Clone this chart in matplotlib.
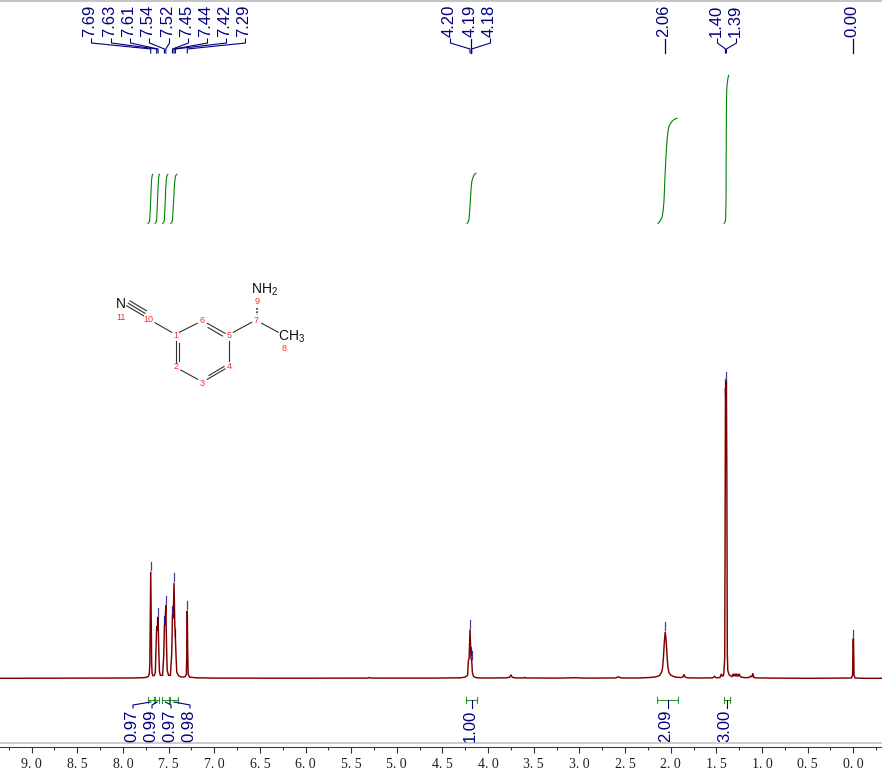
import matplotlib
matplotlib.use('Agg')
import matplotlib.pyplot as plt

plt.rcParams['font.family'] = ['Liberation Sans', 'DejaVu Sans']
plt.rcParams['mathtext.default'] = 'regular'

WIDTH, HEIGHT = 882, 771
BASE_Y = 678.3
PPM_ZERO_PX = 853.3
PX_PER_PPM = 91.3

NAVY = '#000080'
RED = '#800000'
GREEN = '#008000'

# spectrum trace, height is in pixels above the baseline
spec_ppm = [9.35, 8.6, 7.9, 7.78, 7.74, 7.72, 7.71, 7.705, 7.70, 7.695, 7.69, 7.685, 7.68, 7.67,
            7.655, 7.645, 7.638, 7.63, 7.623, 7.615, 7.607, 7.60, 7.59, 7.565, 7.553, 7.545, 7.538,
            7.53, 7.522, 7.515, 7.50, 7.48, 7.465, 7.457, 7.449, 7.44, 7.432, 7.425, 7.417, 7.41,
            7.39, 7.36, 7.32, 7.305, 7.30, 7.295, 7.29, 7.285, 7.27, 7.2, 7.0, 6.2, 5.32, 5.30, 5.28,
            4.6, 4.3, 4.25, 4.225, 4.215, 4.208, 4.198, 4.19, 4.187, 4.18, 4.172, 4.16, 4.14, 4.1,
            4.0, 3.8, 3.765, 3.75, 3.735, 3.7, 3.61, 3.6, 3.59, 3.2, 3.05, 2.95, 2.6, 2.58, 2.56,
            2.54, 2.35, 2.25, 2.18, 2.14, 2.12, 2.10, 2.09, 2.08, 2.07, 2.06, 2.05, 2.04, 2.03,
            2.02, 2.00, 1.97, 1.93, 1.88, 1.865, 1.855, 1.845, 1.82, 1.7, 1.54, 1.52, 1.50, 1.46,
            1.445, 1.435, 1.42, 1.408, 1.403, 1.40, 1.395, 1.39, 1.385, 1.38, 1.375, 1.36, 1.33,
            1.315, 1.305, 1.295, 1.285, 1.275, 1.265, 1.25, 1.24, 1.22, 1.18, 1.14, 1.125, 1.11,
            1.10, 1.09, 1.07, 0.9, 0.5, 0.02, 0.008, 0.002, -0.002, -0.008, -0.02, -0.1, -0.32]
spec_height = [0.0, 0.1, 0.3, 0.6, 1.0, 2.0, 5.0, 15, 60, 106.5, 60, 15, 5.0, 2.5,
               3.0, 6.0, 28, 52, 48, 61, 28, 7.0, 3.0, 3.0, 22, 53, 55,
               73, 32, 8.0, 3.0, 3.0, 25, 63, 60, 95.5, 55, 40, 20, 6.0,
               2.5, 1.2, 1.5, 4.0, 25, 67.5, 25, 4.0, 1.2, 0.5, 0.2, 0.1, 0.2, 0.8, 0.2,
               0.2, 0.5, 1.2, 3.0, 18, 20, 49, 26, 20, 18, 6.0, 2.0, 0.8, 0.4,
               0.3, 0.5, 1.0, 3.5, 1.0, 0.4, 0.3, 1.0, 0.3, 0.2, 0.6, 0.2, 0.3, 1.5, 1.0,
               0.3, 0.3, 0.7, 1.2, 2.0, 3.0, 6.0, 10, 20, 36, 46.5, 38, 22, 11,
               6.0, 3.2, 1.8, 1.0, 0.8, 1.5, 4.0, 1.5, 0.5, 0.3, 0.4, 2.0, 0.5, 0.8,
               4.5, 2.0, 3.0, 20, 200, 290, 270, 297, 200, 25, 8.0, 3.5, 1.5,
               4.5, 2.0, 4.5, 2.0, 4.5, 1.8, 4.5, 2.0, 1.0, 0.6, 0.8, 2.2, 1.5,
               5.0, 1.0, 0.4, 0.2, 0.0, 0.3, 3.0, 39, 39, 3.0, 0.3, 0.0, 0.0]

# integral curves, same height scale
int_ppm = [
    [7.725, 7.712, 7.706, 7.700, 7.695, 7.690, 7.685, 7.679, 7.673],
    [7.648, 7.636, 7.630, 7.625, 7.620, 7.615, 7.610, 7.605, 7.600],
    [7.564, 7.552, 7.545, 7.540, 7.535, 7.530, 7.524, 7.516, 7.507],
    [7.476, 7.464, 7.456, 7.450, 7.443, 7.437, 7.430, 7.420, 7.408],
    [4.23, 4.218, 4.208, 4.200, 4.193, 4.186, 4.178, 4.165, 4.150, 4.132],
    [2.139, 2.118, 2.095, 2.082, 2.073, 2.062, 2.05, 2.04, 2.03, 2.019, 2.0, 1.986, 1.96, 1.931],
    [1.416, 1.406, 1.40, 1.397, 1.394, 1.392, 1.389, 1.386, 1.383, 1.375, 1.365],
]
int_height = [
    [455, 456, 459, 469, 480, 491, 499, 503, 504],
    [455, 456, 459, 469, 480, 491, 499, 503, 504],
    [455, 456, 459, 469, 480, 491, 499, 503, 504],
    [455, 456, 459, 469, 480, 491, 499, 503, 504],
    [455, 456, 460, 470, 480, 490, 497, 501, 504, 505],
    [455, 457, 461, 468, 478, 503, 525, 538, 547, 552, 555, 557, 559, 560],
    [455, 456, 458, 466, 478, 528, 578, 588, 593, 599, 603],
]

# integral regions at the bottom (ppm from, ppm to)
region_from = [7.73, 7.65, 7.57, 7.48, 4.24, 2.145, 1.42]
region_to = [7.66, 7.60, 7.50, 7.40, 4.12, 1.925, 1.35]
region_values = ['0.97', '0.99', '0.97', '0.98', '1.00', '2.09', '3.00']
region_label_px = [132, 151, 170, 189, 470, 666, 725]

# peak picks
pick_labels = ['7.69', '7.63', '7.61', '7.54', '7.52', '7.45', '7.44', '7.42', '7.29',
               '4.20', '4.19', '4.18', '2.06', '1.40', '1.39', '0.00']
pick_ppm = [7.695, 7.63, 7.615, 7.545, 7.53, 7.457, 7.44, 7.425, 7.295,
            4.198, 4.19, 4.18, 2.06, 1.40, 1.39, 0.0]
pick_top = [106.5, 52, 61, 53, 73, 63, 95.5, 40, 67.5, 49, 22, 18, 46.5, 290, 297, 39]
pick_label_px = [90, 110, 129, 148, 168, 187, 206, 225, 244, 449, 470, 489, 664, 716, 735, 852]

tick_ppm = [9.0, 8.5, 8.0, 7.5, 7.0, 6.5, 6.0, 5.5, 5.0, 4.5, 4.0, 3.5, 3.0, 2.5, 2.0, 1.5, 1.0, 0.5, 0.0]
tick_labels = ['9. 0', '8. 5', '8. 0', '7. 5', '7. 0', '6. 5', '6. 0', '5. 5', '5. 0', '4. 5',
               '4. 0', '3. 5', '3. 0', '2. 5', '2. 0', '1. 5', '1. 0', '0. 5', '0. 0']
minor_ppm = [9.25, 8.75, 8.25, 7.75, 7.25, 6.75, 6.25, 5.75, 5.25, 4.75, 4.25, 3.75, 3.25,
             2.75, 2.25, 1.75, 1.25, 0.75, 0.25, -0.25]


def ppm_to_px(ppm):
    return PPM_ZERO_PX - PX_PER_PPM * ppm


def draw_molecule(ov):
    bonds = [
        ((155, 322.7), (171.7, 332.3)),
        ((175.7, 340.7), (175.7, 363)),
        ((179.3, 343), (179.3, 361)),
        ((180.7, 370), (197.7, 379.3)),
        ((207.3, 379.3), (225, 369)),
        ((209, 375.5), (224, 366.5)),
        ((229.3, 360.7), (229.3, 340.7)),
        ((225, 333.3), (207.3, 323.3)),
        ((222.5, 336), (208, 327.5)),
        ((197.3, 323.3), (179.3, 332.3)),
        ((233.3, 332.3), (251.7, 322.3)),
        ((261.7, 323.3), (278.3, 332.3)),
        ((128.3, 303.3), (145, 313.3)),
        ((129.8, 300.8), (146.5, 310.8)),
        ((126.8, 305.8), (143.5, 315.8)),
    ]
    for a, b in bonds:
        ov.plot([a[0], b[0]], [a[1], b[1]], color='#303030', lw=0.8)
    ov.plot([256.7, 256.7], [307.5, 315], color='#303030', lw=1.2, ls=(0, (1, 1)))

    ov.text(120.5, 304, 'N', ha='center', va='center', fontsize=10, color='#101010')
    ov.text(265, 289.5, 'NH$_2$', ha='center', va='center', fontsize=10, color='#101010')
    ov.text(291.5, 336.5, 'CH$_3$', ha='center', va='center', fontsize=10, color='#101010')

    numbers = [('1', 175.7, 336), ('2', 175.7, 366.7), ('3', 202.3, 383.3), ('4', 229.3, 366.7),
               ('5', 229.3, 336), ('6', 202.3, 320.3), ('7', 256.3, 320.3), ('8', 283.7, 348.5),
               ('9', 256.7, 302), ('10', 148.3, 320), ('11', 120.7, 317.3)]
    for label, x, y in numbers:
        ov.text(x, y, label, ha='center', va='center', fontsize=6.5, color='#ff2a2a')


fig = plt.figure(figsize=(WIDTH / 100, HEIGHT / 100), dpi=100)

ax = fig.add_axes([0, 0, 1, 1])
ax.set_xlim(PPM_ZERO_PX / PX_PER_PPM, (PPM_ZERO_PX - WIDTH) / PX_PER_PPM)
ax.set_ylim(BASE_Y - HEIGHT, BASE_Y)
ax.patch.set_alpha(0)

ax.plot(spec_ppm, spec_height, color=RED, lw=1.05, solid_joinstyle='miter')
for xs, ys in zip(int_ppm, int_height):
    ax.plot(xs, ys, color=GREEN, lw=0.8)

# bottom axis
for side in ['top', 'left', 'right']:
    ax.spines[side].set_visible(False)
ax.spines['bottom'].set_position(('data', BASE_Y - 747))
ax.spines['bottom'].set_color('#404040')
ax.spines['bottom'].set_linewidth(0.8)
ax.set_yticks([])
ax.set_xticks(tick_ppm)
ax.set_xticklabels(tick_labels, family='Liberation Serif', fontsize=10, color='#202020')
ax.set_xticks(minor_ppm, minor=True)
ax.tick_params(axis='x', which='major', length=4.5, width=0.8, color='#303030', pad=3.5)
ax.tick_params(axis='x', which='minor', length=2.2, width=0.8, color='#303030')

# overlay in picture pixels for labels and connectors
ov = fig.add_axes([0, 0, 1, 1])
ov.set_xlim(0, WIDTH)
ov.set_ylim(HEIGHT, 0)
ov.axis('off')
ov.patch.set_alpha(0)

ov.plot([0, WIDTH], [0.5, 0.5], color='#c4c4c4', lw=1.4)
ov.plot([0, WIDTH], [743, 743], color='#c4c4c4', lw=1.2)

for label, ppm, top, label_px in zip(pick_labels, pick_ppm, pick_top, pick_label_px):
    px = ppm_to_px(ppm)
    ov.text(label_px, 37, label, rotation=90, ha='center', va='bottom', fontsize=12, color=NAVY)
    stem = label_px + 1.5
    if abs(stem - px) < 3:
        ov.plot([px, px], [39, 53], color=NAVY, lw=0.9)
    else:
        ov.plot([stem, stem, px, px], [39, 43, 49, 53], color=NAVY, lw=0.8)
    # small mark above each picked peak
    tick_bottom = BASE_Y - top - 1.5
    ov.plot([px, px], [tick_bottom - 8, tick_bottom], color=NAVY, lw=0.9, alpha=0.75)

for start, end, value, label_px in zip(region_from, region_to, region_values, region_label_px):
    x0, x1 = ppm_to_px(start), ppm_to_px(end)
    mid = (x0 + x1) / 2
    ov.plot([x0, x1], [700, 700], color=GREEN, lw=0.8, alpha=0.8)
    ov.plot([x0, x0], [697, 703], color=GREEN, lw=0.8, alpha=0.8)
    ov.plot([x1, x1], [697, 703], color=GREEN, lw=0.8, alpha=0.8)
    ov.text(label_px, 742, value, rotation=90, ha='center', va='bottom', fontsize=12, color=NAVY)
    if abs(label_px - mid) < 4:
        ov.plot([mid, mid], [700, 708], color=NAVY, lw=0.8)
    else:
        ov.plot([mid, label_px + 1, label_px + 1], [702, 705, 708], color=NAVY, lw=0.8)

draw_molecule(ov)

fig.savefig('out.png', dpi=100)
